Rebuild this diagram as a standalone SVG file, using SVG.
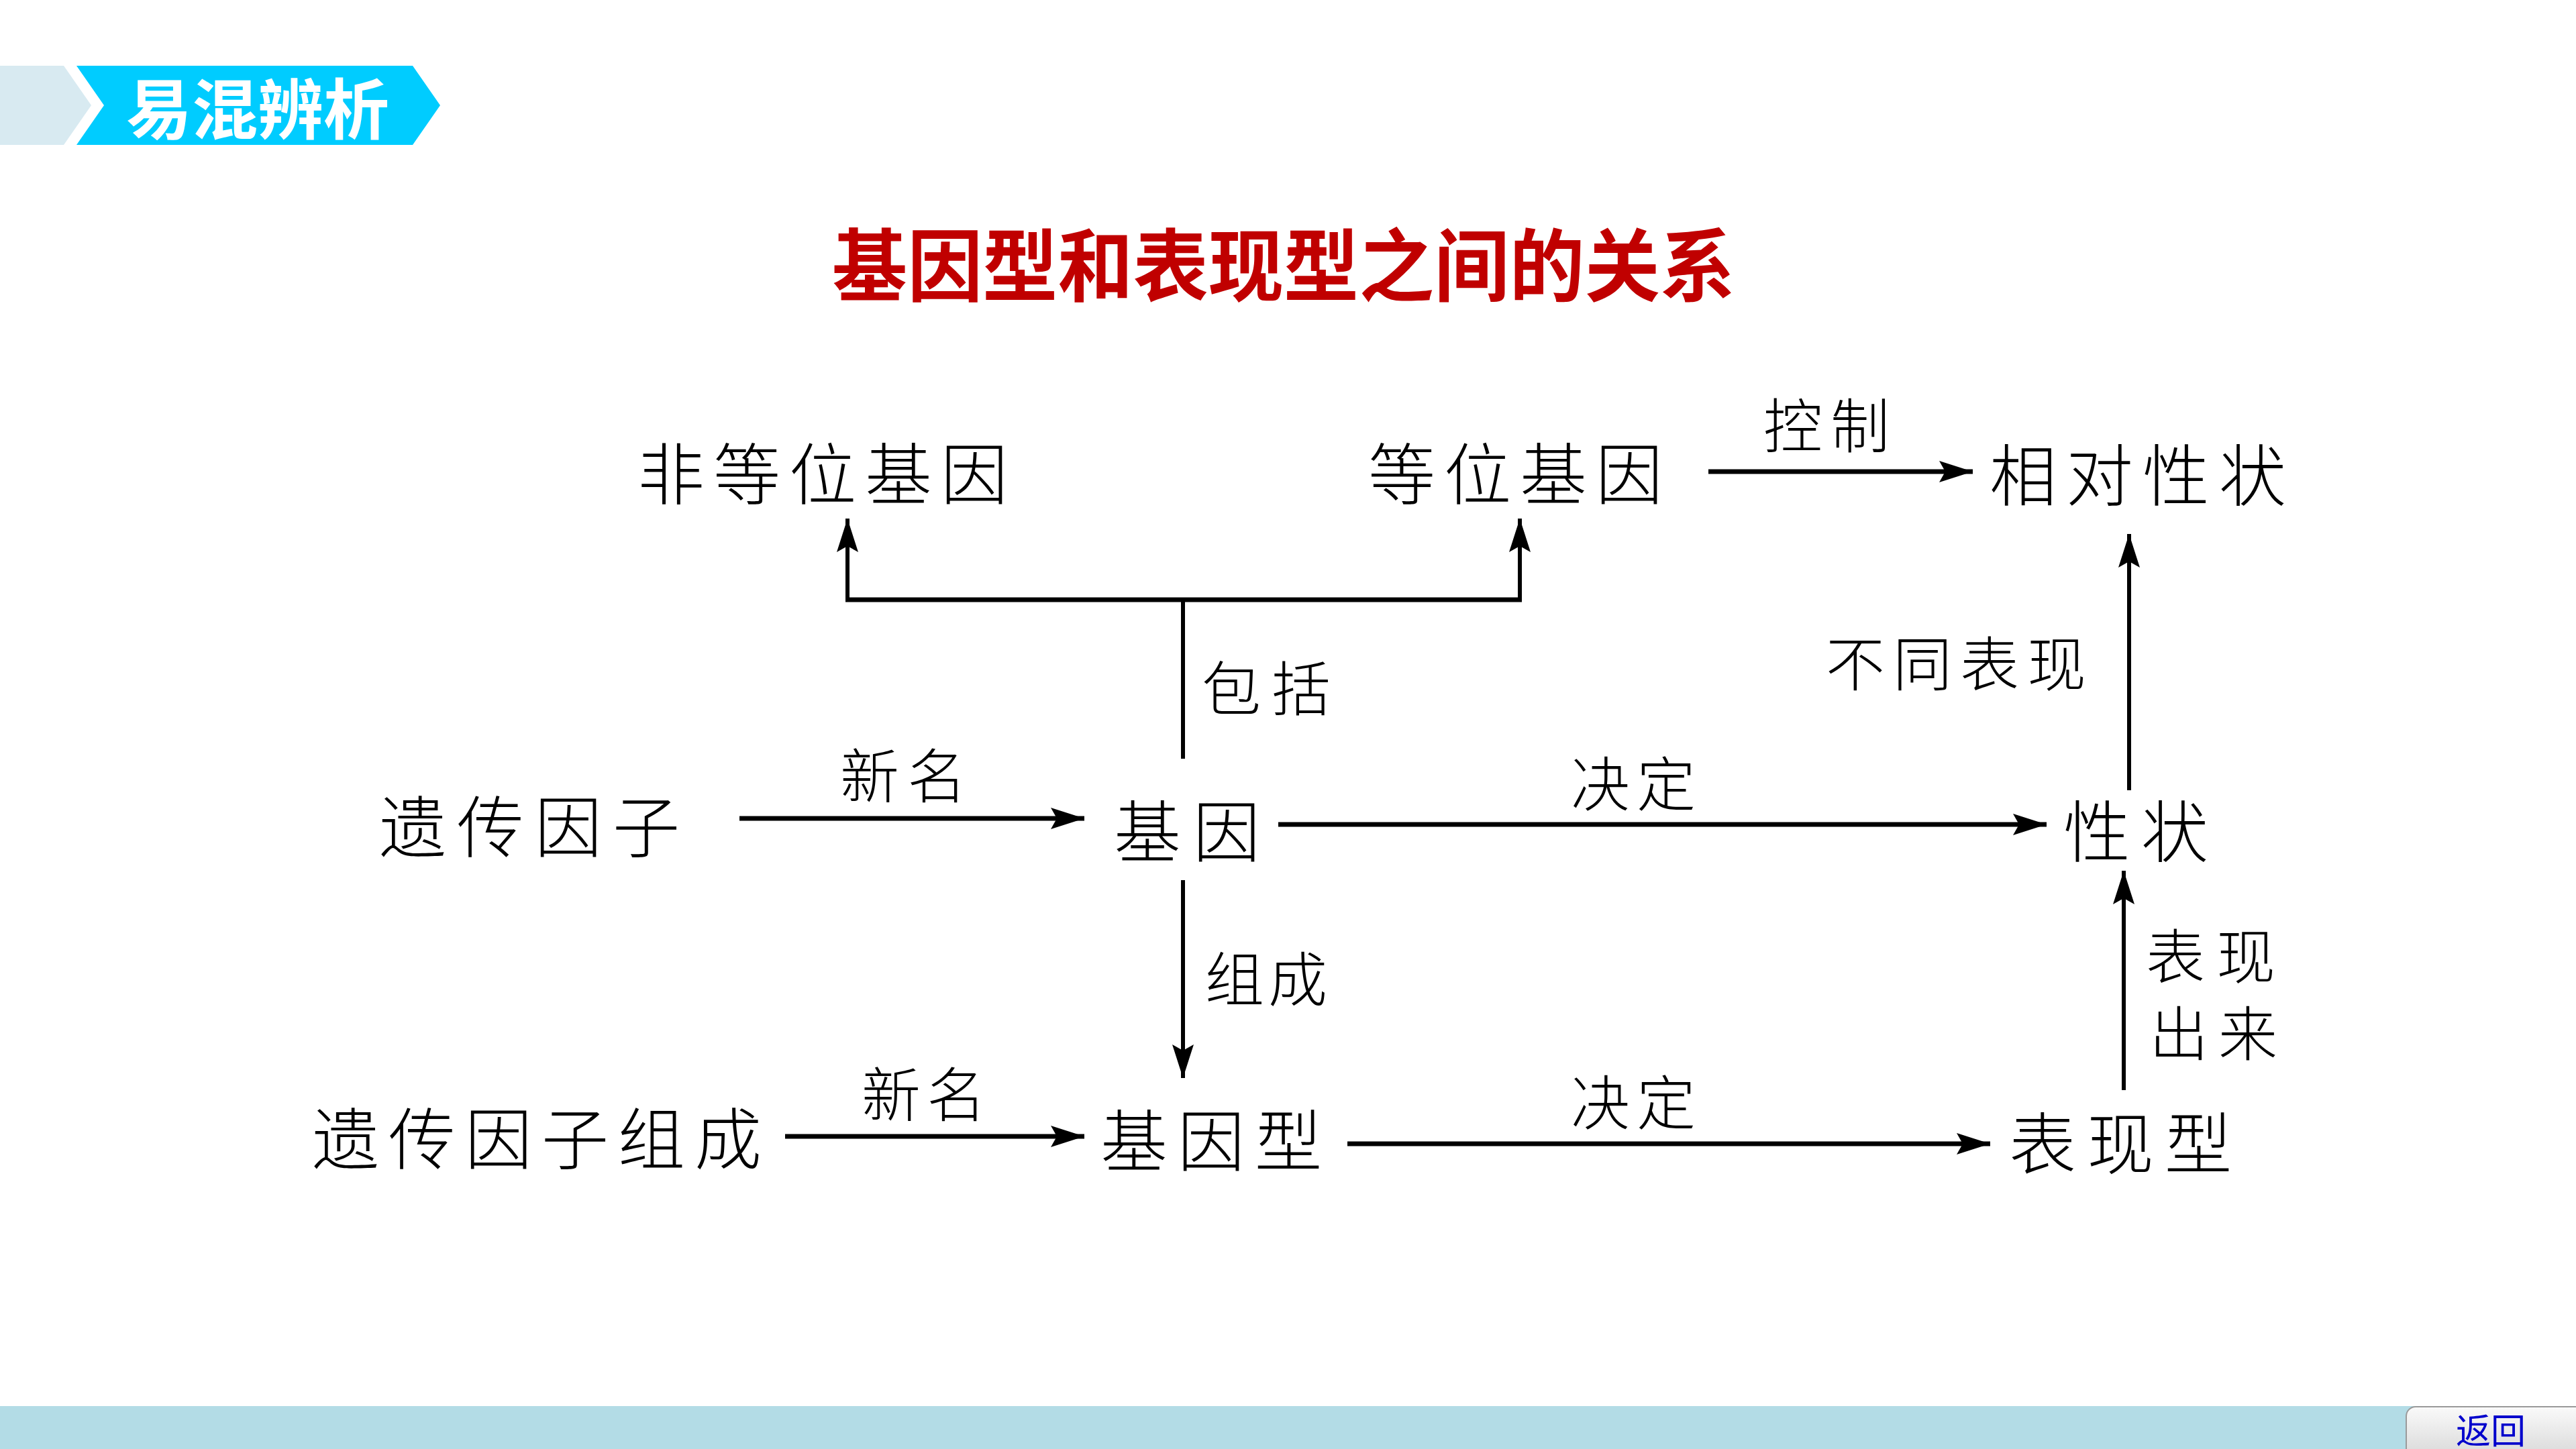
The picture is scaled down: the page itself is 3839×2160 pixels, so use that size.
<svg xmlns="http://www.w3.org/2000/svg" width="3839" height="2160" viewBox="0 0 3839 2160">
<defs>
<marker id="ah" markerUnits="userSpaceOnUse" markerWidth="52" markerHeight="34" refX="50" refY="16" orient="auto">
<path d="M0,0 L50,16 L0,32 L9,16 Z" fill="#000"/>
</marker>
<linearGradient id="btn" x1="0" y1="0" x2="0" y2="1">
<stop offset="0" stop-color="#fafafa"/>
<stop offset="1" stop-color="#d6d6d6"/>
</linearGradient>
</defs>
<style>
.n{font-family:"Noto Sans CJK SC","Noto Sans CJK JP",sans-serif;font-size:100px;font-weight:300;fill:#000}
.l{font-family:"Noto Sans CJK SC","Noto Sans CJK JP",sans-serif;font-size:88px;font-weight:300;fill:#000}
.h{fill:none;stroke:#000;stroke-width:7}
.v{fill:none;stroke:#000;stroke-width:6}
.a{marker-end:url(#ah)}
</style>
<rect width="3839" height="2160" fill="#fff"/>
<g id="header">
<polygon points="0,98 95,98 136,157 95,216 0,216" fill="#D8EAF1"/>
<polygon points="114,98 615,98 656,157 615,216 114,216 155,157" fill="#00CCFF"/>
<text x="384" y="199" text-anchor="middle" font-family="'Noto Sans CJK SC',sans-serif" font-weight="bold" font-size="98" fill="#fff">易混辨析</text>
</g>
<g id="title">
<text x="1240" y="440" textLength="1346" lengthAdjust="spacingAndGlyphs" font-family="'Noto Sans CJK SC',sans-serif" font-weight="bold" font-size="118" fill="#C00000">基因型和表现型之间的关系</text>
</g>
<g id="connectors">
<line class="h a" x1="2546" y1="703" x2="2940" y2="703"/>
<line class="h" x1="1260" y1="894" x2="2268" y2="894"/>
<line class="v a" x1="1263" y1="894" x2="1263" y2="773"/>
<line class="v a" x1="2265" y1="894" x2="2265" y2="773"/>
<line class="v" x1="1763" y1="894" x2="1763" y2="1131"/>
<line class="h a" x1="1102" y1="1220" x2="1616" y2="1220"/>
<line class="h a" x1="1905" y1="1229" x2="3050" y2="1229"/>
<line class="v a" x1="3173" y1="1178" x2="3173" y2="796"/>
<line class="v a" x1="1763" y1="1312" x2="1763" y2="1607"/>
<line class="h a" x1="1170" y1="1694" x2="1616" y2="1694"/>
<line class="h a" x1="2008" y1="1705" x2="2966" y2="1705"/>
<line class="v a" x1="3165" y1="1625" x2="3165" y2="1298"/>
</g>
<g id="labels">
<text class="l" x="2628" y="667" letter-spacing="12">控制</text>
<text class="l" x="1791" y="1059" letter-spacing="16">包括</text>
<text class="l" x="1252" y="1189" letter-spacing="12">新名</text>
<text class="l" x="2341" y="1201" letter-spacing="10">决定</text>
<text class="l" x="2721" y="1022" letter-spacing="12">不同表现</text>
<text class="l" x="1796" y="1492" letter-spacing="6">组成</text>
<text class="l" x="1284" y="1664" letter-spacing="9">新名</text>
<text class="l" x="2341" y="1676" letter-spacing="10">决定</text>
<text class="l" x="3198" y="1458" letter-spacing="17">表现</text>
<text class="l" x="3203" y="1573" letter-spacing="15">出来</text>
</g>
<g id="node-feidengwei"><text class="n" x="950" y="744" letter-spacing="13">非等位基因</text></g>
<g id="node-dengwei"><text class="n" x="2039" y="744" letter-spacing="13">等位基因</text></g>
<g id="node-xiangdui"><text class="n" x="2965" y="746" letter-spacing="14">相对性状</text></g>
<g id="node-yichuanyinzi"><text class="n" x="565" y="1270" letter-spacing="16">遗传因子</text></g>
<g id="node-jiyin"><text class="n" x="1660" y="1277" letter-spacing="18">基因</text></g>
<g id="node-xingzhuang"><text class="n" x="3075" y="1277" letter-spacing="16">性状</text></g>
<g id="node-yichuanzucheng"><text class="n" x="465" y="1735" letter-spacing="14">遗传因子组成</text></g>
<g id="node-jiyinxing"><text class="n" x="1640" y="1738" letter-spacing="15">基因型</text></g>
<g id="node-biaoxianxing"><text class="n" x="2994" y="1742" letter-spacing="16">表现型</text></g>
<g id="footer">
<rect x="0" y="2096" width="3839" height="64" fill="#B3DCE6"/>
<rect x="3586" y="2097" width="270" height="80" rx="14" fill="url(#btn)" stroke="#9a9a9a" stroke-width="2"/>
<text x="3712" y="2152" text-anchor="middle" font-family="'Noto Sans CJK SC',sans-serif" font-size="52" fill="#0000CC">返回</text>
</g>
</svg>
